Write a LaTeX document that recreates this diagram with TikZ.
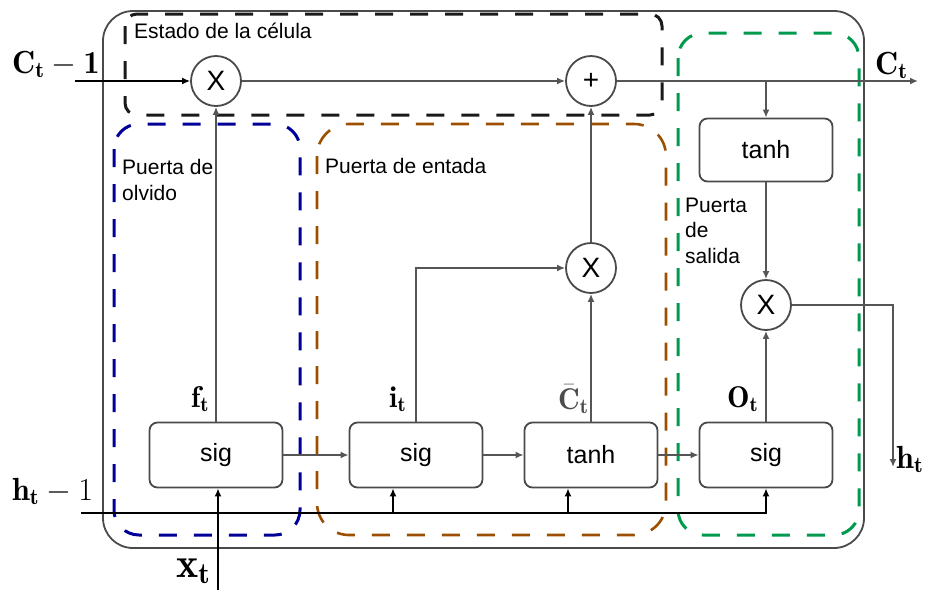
\RequirePackage{fix-cm}
\documentclass[tikz,border=0pt]{standalone}
\usepackage{fontspec}
\setsansfont{Liberation Sans}
\usetikzlibrary{arrows.meta}
\definecolor{boxgray}{HTML}{4A4A4A}
\definecolor{linegray}{HTML}{555555}
\definecolor{regblue}{HTML}{000099}
\definecolor{regbrown}{HTML}{9C4F00}
\definecolor{reggreen}{HTML}{009A4E}
\definecolor{regblack}{HTML}{1A1A1A}
\begin{document}
\begin{tikzpicture}[x=1pt,y=-1pt,
  gatebox/.style={draw=boxgray, line width=1.8pt, rounded corners=8pt, fill=white,
    minimum width=133pt, minimum height=65pt, inner sep=0pt,
    font=\sffamily\fontsize{25}{28}\selectfont},
  opcirc/.style={circle, draw=boxgray, line width=1.8pt, fill=white,
    minimum size=50pt, inner sep=0pt, font=\sffamily\fontsize{28}{30}\selectfont},
  conn/.style={draw=linegray, line width=1.6pt, -{Latex[length=8pt,width=7pt]}},
  blackconn/.style={conn, draw=black, line width=1.5pt},
  lbl/.style={font=\sffamily\fontsize{21}{26}\selectfont, anchor=base west, inner sep=0pt},
  mlbl/.style={font=\fontsize{32}{38}\selectfont, anchor=base west, inner sep=0pt},
  region/.style={dash pattern=on 18pt off 17pt, line width=3pt}
]
\useasboundingbox (0,0) rectangle (928,590);

% outer cell
\draw[draw=boxgray, line width=1.8pt, rounded corners=30pt] (103,11) rectangle (864,548);

% dashed regions
\draw[region, draw=regblack, rounded corners=12pt] (125,14) rectangle (662,115);
\draw[region, draw=regblue, rounded corners=25pt] (114,124) rectangle (300,535);
\draw[region, draw=regbrown, line width=2.6pt, rounded corners=32pt] (317,124) rectangle (666,535);
\draw[region, draw=reggreen, rounded corners=25pt] (678,33) rectangle (859,535);

% region labels
\node[lbl] (tcell) at (134,38) {Estado de la célula};
\node[lbl] (tf1) at (122,174) {Puerta de};
\node[lbl] (tf2) at (122,200) {olvido};
\node[lbl] (ti) at (325,173) {Puerta de entada};
\node[lbl] (to1) at (685,212) {Puerta};
\node[lbl] (to2) at (685,237) {de};
\node[lbl] (to3) at (685,263) {salida};

% operations
\node[opcirc] (m1) at (216,81) {X};
\node[opcirc] (add) at (591,81) {+};
\node[opcirc] (m2) at (591,268) {X};
\node[opcirc] (m3) at (766,305) {X};

% gates
\node[gatebox] (f) at (216,455) {sig};
\node[gatebox] (i) at (416,455) {sig};
\node[gatebox] (g) at (591,455) {tanh};
\node[gatebox] (o) at (766,455) {sig};
\node[gatebox, minimum height=63pt] (th) at (766,150) {tanh};

% free ends
\coordinate (cin) at (75,81);
\coordinate (cout) at (918,81);
\coordinate (cj) at (766,81);
\coordinate (hout) at (893,467);
\coordinate (hin) at (81,513);
\coordinate (hi) at (393,513);
\coordinate (hg) at (568,513);
\coordinate (xin) at (218,590);

% connectors
\draw[blackconn] (cin) -- (m1);
\draw[conn] (m1) -- (add);
\draw[conn] (add) -- (cout);
\draw[conn] (cj) -- (th.north);
\draw[conn] (th) -- (m3);
\draw[conn] (m3.east) -| (hout);
\draw[conn] (o) -- (m3);
\draw[conn] (f) -- (i);
\draw[conn] (i) -- (g);
\draw[conn] (g) -- (o);
\draw[conn] (f) -- (m1);
\draw[conn] (i.north) |- (m2.west);
\draw[conn] (g) -- (m2);
\draw[conn] (m2) -- (add);
\draw[blackconn] (hin) -| (o.south);
\draw[blackconn] (hi) -- (hi|-i.south);
\draw[blackconn] (hg) -- (hg|-g.south);
\draw[blackconn] (xin) -- (xin|-f.south);

% signal labels
\node[mlbl] (lcin) at (12,73) {$\mathbf{C}_{\mathbf{t}}-\mathbf{1}$};
\node[mlbl] (lhin) at (12,500) {$\mathbf{h}_{\mathbf{t}}-1$};
\node[mlbl, font=\fontsize{42}{48}\selectfont] (lxin) at (176,577) {$\mathbf{x}_{\mathbf{t}}$};
\node[mlbl, font=\fontsize{30}{36}\selectfont] (lf) at (191,407) {$\mathbf{f}_{\mathbf{t}}$};
\node[mlbl, font=\fontsize{30}{36}\selectfont] (li) at (389,407) {$\mathbf{i}_{\mathbf{t}}$};
\node[mlbl, font=\fontsize{30}{36}\selectfont, text=black!70] (lg) at (558,409) {$\bar{\mathbf{C}}_{\mathbf{t}}$};
\node[mlbl, font=\fontsize{30}{36}\selectfont] (lo) at (727,407) {$\mathbf{O}_{\mathbf{t}}$};
\node[mlbl] (lcout) at (875,74) {$\mathbf{C}_{\mathbf{t}}$};
\node[mlbl] (lhout) at (896,468) {$\mathbf{h}_{\mathbf{t}}$};
\end{tikzpicture}
\end{document}
